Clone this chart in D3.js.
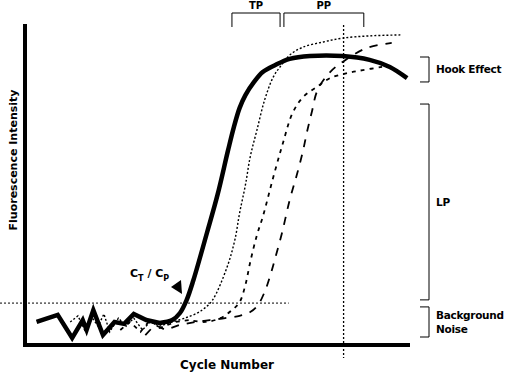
<!DOCTYPE html>
<html><head><meta charset="utf-8">
<script src="https://cdn.jsdelivr.net/npm/d3@7"></script>
<style>body{margin:0;background:#fff}svg{display:block}text{font-family:"DejaVu Sans",Verdana,sans-serif;font-weight:bold;fill:#000}</style>
</head><body>
<svg id="c" width="506" height="372"></svg>
<script>
// Cycle number (x) and fluorescence (y, 0-100) for each amplification curve
const solidCycle = [1.2,3.4,4.9,6.0,6.4,7.1,8.1,9.3,10.3,11.3,12.6,14.0,15.3,16.1,16.8,17.5,18.9,20.0,21.1,21.7,22.3,22.9,23.8,24.7,26.0,27.5,29.6,33.0,35.8,37.9,39.7];
const solidFluor = [7.2,9.4,2.2,7.8,4.7,10.9,3.1,7.2,6.6,9.7,7.8,6.9,7.8,10.0,14.1,20.3,35.0,46.9,60.9,68.1,74.1,78.1,82.2,85.3,87.5,89.4,90.3,90.3,89.1,86.9,83.4];
const dotCycle = [4.7,5.5,6.2,7.0,7.6,8.2,8.8,9.7,10.5,11.3,12.2,13.0,14.0,15.3,16.6,17.9,18.7,19.5,21.0,21.8,22.3,22.9,23.4,24.1,24.9,25.8,26.5,27.5,28.9,31.0,33.0,35.8,39.0];
const dotFluor = [7.2,9.1,4.7,8.4,5.9,9.7,4.1,8.4,5.9,8.4,4.7,7.2,5.9,7.2,8.4,10.0,11.6,14.1,24.4,32.8,41.3,50.0,58.8,67.2,76.6,83.8,86.9,90.6,93.1,94.7,95.9,96.6,96.9];
const dashCycle = [9.9,10.9,12.0,13.0,14.0,15.6,17.1,18.7,20.3,21.5,22.3,22.9,23.4,24.1,24.7,25.8,26.8,27.8,28.9,30.3,31.7,33.5,35.1,37.1];
const dashFluor = [4.7,7.2,4.1,7.8,5.3,7.2,7.8,7.2,8.4,10.9,13.4,18.8,25.9,34.4,40.0,52.5,63.1,72.5,77.5,80.6,83.4,85.0,85.9,86.9];
const longCycle = [12.5,13.5,14.6,16.1,17.7,19.2,20.8,22.3,23.4,24.2,24.9,25.5,26.0,26.7,27.5,28.3,28.9,29.3,29.8,30.4,31.7,33.3,35.5,38.1];
const longFluor = [3.1,6.3,4.7,6.3,7.2,7.8,8.4,9.1,10.3,12.5,16.6,21.9,27.2,35.0,45.3,53.8,60.9,66.6,72.8,79.7,85.3,89.1,92.8,94.4];
const threshold = 13.1;      // fluorescence threshold
const plateauCycle = 33.1;   // vertical reference
const xLabel = "Cycle Number";
const yLabel = "Fluorescence Intensity";
const topBrackets = [{label:"TP", from:21.5, to:26.5}, {label:"PP", from:26.9, to:35.2}];
const sideBrackets = [{lines:["Hook Effect"], from:82.2, to:90.0}, {lines:["LP"], from:14.1, to:75.3}, {lines:["Background","Noise"], from:2.5, to:11.9}];

const svg = d3.select("#c");
const x = d3.scaleLinear().domain([0,40]).range([25,410]);
const y = d3.scaleLinear().domain([0,100]).range([345,25]);
const lin = d3.line().x(d=>x(d[0])).y(d=>y(d[1]));
const smooth = d3.line().x(d=>x(d[0])).y(d=>y(d[1])).curve(d3.curveCatmullRom.alpha(0.5));
const zip = (a,b)=>a.map((v,i)=>[v,b[i]]);
// noise part drawn straight (jagged), growth part smooth
function curvePath(cyc, fl, breakCycle){
  const pts = zip(cyc, fl);
  const k = pts.findIndex(p=>p[0]>=breakCycle);
  const a = lin(pts.slice(0,k+1));
  const b = smooth(pts.slice(k));
  return a + "L" + b.slice(1);
}

// threshold & vertical reference lines
svg.append("line").attr("x1",0).attr("x2",x(27.4)).attr("y1",y(threshold)).attr("y2",y(threshold))
  .attr("stroke","#000").attr("stroke-width",1).attr("stroke-dasharray","2,2");
svg.append("line").attr("x1",x(plateauCycle)).attr("x2",x(plateauCycle)).attr("y1",25).attr("y2",358)
  .attr("stroke","#000").attr("stroke-width",1.3).attr("stroke-dasharray","2,2");

// curves
svg.append("path").attr("d",curvePath(dotCycle,dotFluor,15.3)).attr("fill","none").attr("stroke","#000").attr("stroke-width",1.4).attr("stroke-dasharray","2,2");
svg.append("path").attr("d",curvePath(dashCycle,dashFluor,17.1)).attr("fill","none").attr("stroke","#000").attr("stroke-width",1.8).attr("stroke-dasharray","4,5");
svg.append("path").attr("d",curvePath(longCycle,longFluor,17.7)).attr("fill","none").attr("stroke","#000").attr("stroke-width",1.8).attr("stroke-dasharray","8,8");
svg.append("path").attr("d",curvePath(solidCycle,solidFluor,14.0)).attr("fill","none").attr("stroke","#000").attr("stroke-width",4.5).attr("stroke-linejoin","miter").attr("stroke-miterlimit",3);

// axes (no ticks)
svg.append("line").attr("x1",x(0)).attr("x2",x(0)).attr("y1",24).attr("y2",347).attr("stroke","#000").attr("stroke-width",4);
svg.append("line").attr("x1",23).attr("x2",x(40)).attr("y1",y(0)).attr("y2",y(0)).attr("stroke","#000").attr("stroke-width",4);

// axis titles
svg.append("text").attr("x",227).attr("y",369).attr("text-anchor","middle").attr("font-size",12).text(xLabel);
svg.append("text").attr("transform","translate(17,160) rotate(-90)").attr("text-anchor","middle").attr("font-size",11).text(yLabel);

// top brackets
topBrackets.forEach(b=>{
  const x1=x(b.from), x2=x(b.to);
  svg.append("path").attr("d",`M${x1},27V13H${x2}V27`).attr("fill","none").attr("stroke","#000").attr("stroke-width",1);
  svg.append("text").attr("x",(x1+x2)/2).attr("y",9).attr("text-anchor","middle").attr("font-size",10).text(b.label);
});
// side brackets
sideBrackets.forEach(b=>{
  const y1=y(b.to), y2=y(b.from);
  svg.append("path").attr("d",`M420,${y1}H429V${y2}H420`).attr("fill","none").attr("stroke","#000").attr("stroke-width",1);
  const cy=(y1+y2)/2, n=b.lines.length;
  b.lines.forEach((t,i)=>{
    svg.append("text").attr("x",436).attr("y",cy+4+(i-(n-1)/2)*14).attr("font-size",10.5).attr("letter-spacing",-0.3).text(t);
  });
});

// CT / CP label with arrow
const ct = svg.append("text").attr("x",130).attr("y",277).attr("font-size",11);
ct.append("tspan").text("C");
ct.append("tspan").attr("dy",4).attr("font-size",8).text("T");
ct.append("tspan").attr("dy",-4).text(" / C");
ct.append("tspan").attr("dy",4).attr("font-size",8).text("P");
svg.append("path").attr("d","M171,287L181,280L182,294Z").attr("fill","#000");
</script>
</body></html>
